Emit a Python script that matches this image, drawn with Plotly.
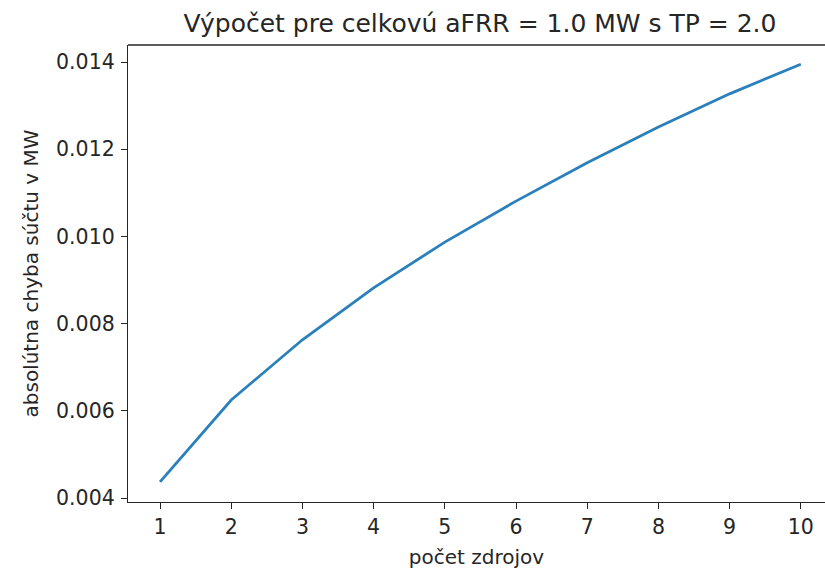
import plotly.graph_objects as go

pocet_zdrojov = [1, 2, 3, 4, 5, 6, 7, 8, 9, 10]
chyba_mw = [0.00437, 0.00625, 0.00763, 0.00882, 0.00987, 0.01081, 0.01169, 0.01251, 0.01327, 0.01395]
y_ticks = [0.004, 0.006, 0.008, 0.010, 0.012, 0.014]
x_ticks = [1, 2, 3, 4, 5, 6, 7, 8, 9, 10]

title_text = "Výpočet pre celkovú aFRR = 1.0 MW s TP = 2.0"
x_label = "počet zdrojov"
y_label = "absolútna chyba súčtu v MW"

font_family = "DejaVu Sans"
axis_color = "#262626"

fig = go.Figure()
fig.add_trace(go.Scatter(
    x=pocet_zdrojov, y=chyba_mw, mode="lines",
    line=dict(color="#2a80bd", width=2.8),
    showlegend=False,
))

fig.update_layout(
    width=825, height=569,
    margin=dict(l=128, r=0, t=45, b=67),
    paper_bgcolor="white", plot_bgcolor="white",
    font=dict(family=font_family, size=20.5, color="#262626"),
    title=dict(text=title_text, x=0.505, xref="paper", xanchor="center",
               y=1 - 23 / 569, yref="container", yanchor="middle",
               font=dict(size=25, color="#262626", family=font_family)),
)

fig.update_xaxes(
    range=[0.55, 10.34], tickvals=x_ticks, ticktext=[str(v) for v in x_ticks],
    showgrid=False, zeroline=False, showline=True, linecolor=axis_color, linewidth=1.3,
    ticks="outside", ticklen=6, tickwidth=1.2, tickcolor=axis_color,
    title=dict(text=x_label, standoff=13, font=dict(size=20)),
)
fig.update_yaxes(
    range=[0.00391, 0.01439], tickvals=y_ticks, ticktext=[f"{v:.3f}" for v in y_ticks],
    showgrid=False, zeroline=False, showline=True, linecolor=axis_color, linewidth=1.3,
    ticks="outside", ticklen=6, tickwidth=1.2, tickcolor=axis_color,
    ticklabelstandoff=2,
    title=dict(text=y_label, standoff=12, font=dict(size=20)),
)

fig.add_shape(type="line", xref="paper", yref="paper", x0=0, x1=1, y0=1, y1=1,
              line=dict(color=axis_color, width=1.3))

fig.write_html("out.html")
